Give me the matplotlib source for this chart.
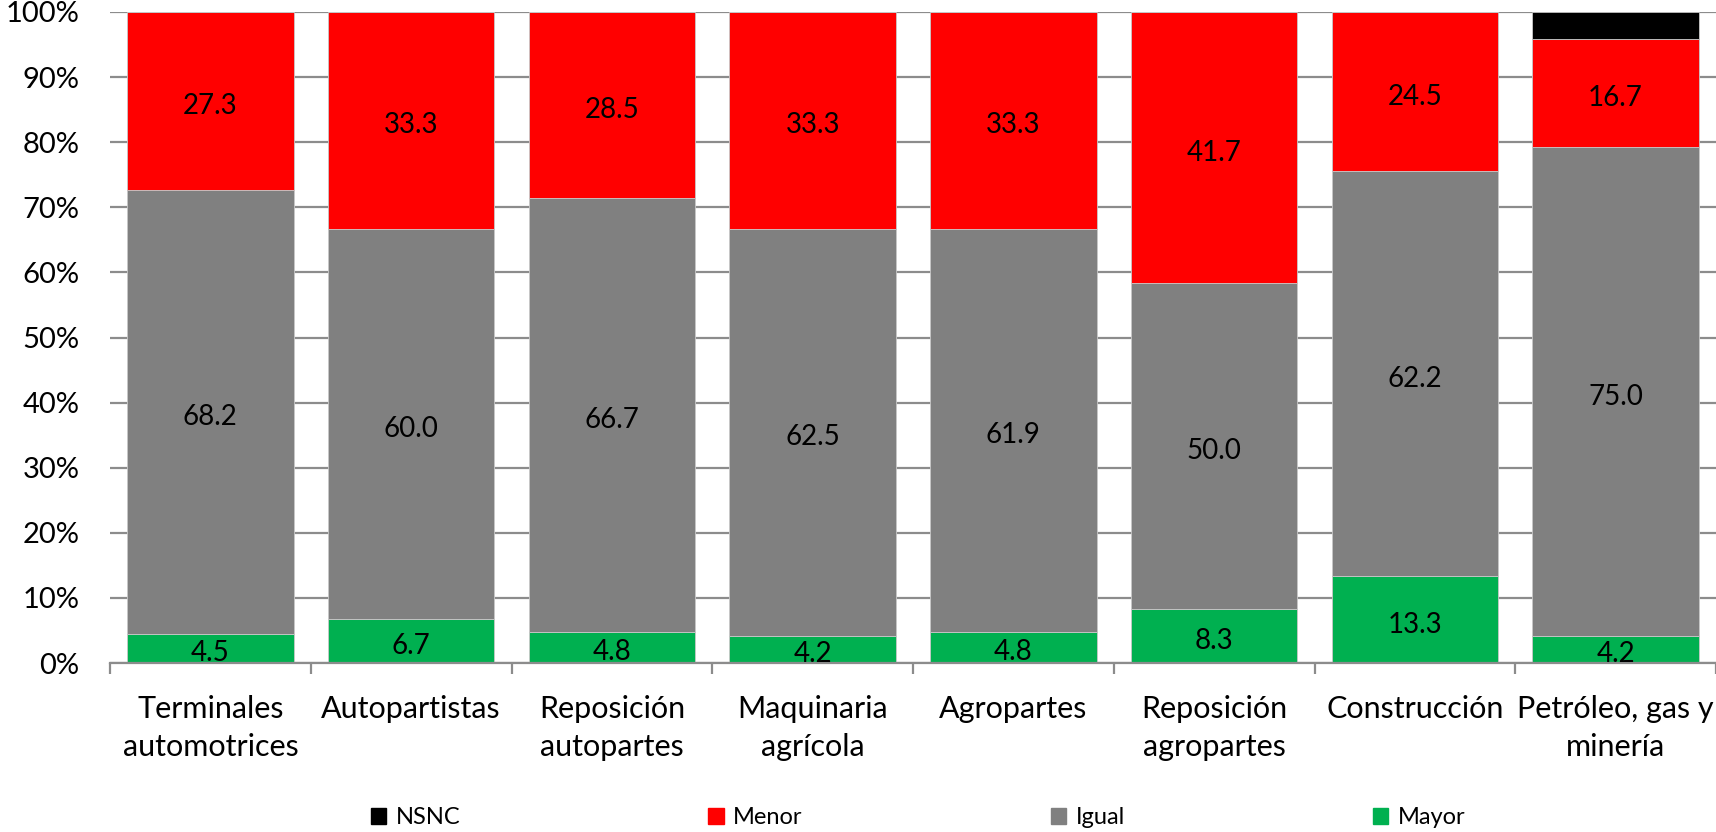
import numpy as np
import matplotlib.pyplot as plt
from matplotlib.patches import Patch
import matplotlib.transforms as mtransforms

plt.rcParams["font.family"] = ["Lato", "DejaVu Sans"]

# %% data
categories = [
    "Terminales\nautomotrices",
    "Autopartistas",
    "Reposición\nautopartes",
    "Maquinaria\nagrícola",
    "Agropartes",
    "Reposición\nagropartes",
    "Construcción",
    "Petróleo, gas y\nminería",
]
mayor = [4.5, 6.7, 4.8, 4.2, 4.8, 8.3, 13.3, 4.2]
igual = [68.2, 60.0, 66.7, 62.5, 61.9, 50.0, 62.2, 75.0]
menor = [27.3, 33.3, 28.5, 33.3, 33.3, 41.7, 24.5, 16.7]
nsnc = [0.0, 0.0, 0.0, 0.0, 0.0, 0.0, 0.0, 4.1]

series = [
    ("Mayor", mayor, "#00B050"),
    ("Igual", igual, "#808080"),
    ("Menor", menor, "#FF0000"),
    ("NSNC", nsnc, "#000000"),
]

# %% plot
fig = plt.figure(figsize=(17.16, 8.32), dpi=100)
ax = fig.add_axes([110 / 1716, 1 - 663 / 832, 1 - 110 / 1716, (663 - 12) / 832])

x = np.arange(len(categories))
bottom = np.zeros(len(categories))
# shift labels a few pixels down, like excel does
offset = mtransforms.offset_copy(ax.transData, fig=fig, x=0, y=-5, units="dots")
for name, vals, color in series:
    vals = np.array(vals)
    ax.bar(x, vals, 0.83, bottom=bottom, color=color, label=name, zorder=2,
           edgecolor="#c8c8c8", linewidth=0.6)
    if name != "NSNC":
        for xi, b, v in zip(x, bottom, vals):
            ax.text(xi, b + v / 2, f"{v:.1f}", ha="center", va="center",
                    fontsize=20, transform=offset, clip_on=True, zorder=3)
    bottom += vals

ax.set_xlim(-0.5, len(categories) - 0.5)
ax.set_ylim(0, 100)
ax.set_yticks(np.arange(0, 101, 10))
ax.set_yticklabels([f"{t}%" for t in range(0, 101, 10)], fontsize=21)
ax.tick_params(axis="y", length=0, pad=22)
ax.yaxis.grid(True, color="#8c8c8c", linewidth=1.6, zorder=0)

ax.set_xticks(x)
ax.set_xticklabels(categories, fontsize=22, linespacing=1.45)
ax.set_xticks(np.arange(-0.5, len(categories)), minor=True)
ax.tick_params(axis="x", which="major", length=0, pad=23)
ax.tick_params(axis="x", which="minor", length=8, width=1.6, color="#8c8c8c")

for s in ["top", "right", "left"]:
    ax.spines[s].set_visible(False)
ax.spines["bottom"].set_color("#8c8c8c")
ax.spines["bottom"].set_linewidth(1.6)
ax.set_axisbelow(True)

handles = [Patch(color=c) for _, _, c in series[::-1]]
labels = [n for n, _, _ in series[::-1]]
fig.legend(handles, labels, loc="center", bbox_to_anchor=(0.535, 1 - 818 / 832),
           ncol=4, frameon=False, fontsize=17, handlelength=0.65, handleheight=0.65,
           handletextpad=0.4, columnspacing=10.5)

fig.savefig("out.png", dpi=100)
